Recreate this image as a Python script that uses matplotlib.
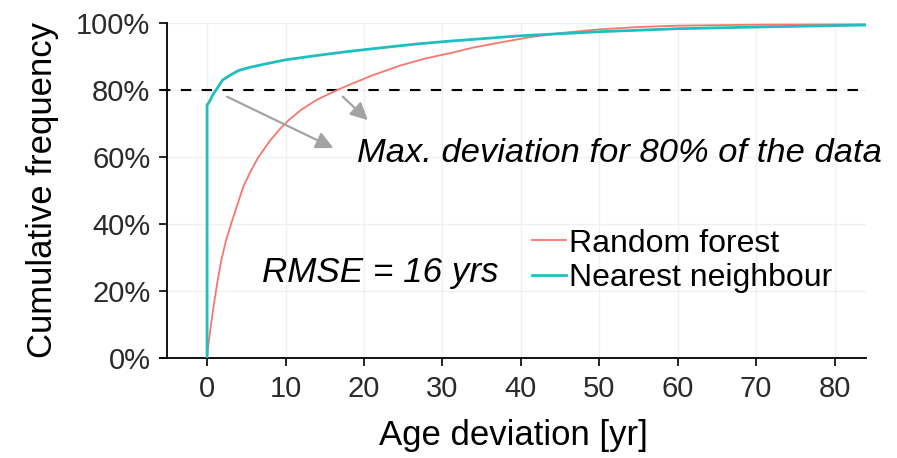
import matplotlib
matplotlib.use("Agg")
import matplotlib.pyplot as plt
from matplotlib.ticker import FuncFormatter

plt.rcParams['font.family'] = ['Liberation Sans', 'DejaVu Sans']

# Cumulative frequency of absolute age deviation per model
rf_dev = [0, 0.2, 0.5, 0.9, 1.3, 1.8, 2.4, 3.2, 4.6, 5.5, 6.5, 8.0, 9.3, 10.5, 12,
          14, 16.6, 18.2, 21, 24.6, 28, 31, 34, 37.4, 41, 45, 50, 55, 60, 70, 84]
rf_cum = [0, 0.045, 0.10, 0.165, 0.225, 0.29, 0.35, 0.41, 0.51, 0.555, 0.598,
          0.648, 0.684, 0.712, 0.741, 0.771, 0.80, 0.816, 0.843, 0.873, 0.895,
          0.91, 0.927, 0.942, 0.957, 0.97, 0.981, 0.988, 0.992, 0.995, 0.996]

nn_dev = [0, 0, 0.3, 0.6, 1.0, 1.3, 1.7, 2.0, 3, 4, 5.5, 7.5, 10, 14, 18, 23, 27,
          31, 35, 40, 45, 50, 60, 70, 84]
nn_cum = [0, 0.755, 0.765, 0.78, 0.795, 0.805, 0.82, 0.83, 0.845, 0.858, 0.868,
          0.878, 0.89, 0.903, 0.915, 0.928, 0.938, 0.946, 0.953, 0.962, 0.968,
          0.974, 0.983, 0.988, 0.994]

series_labels = ["Random forest", "Nearest neighbour"]
x_ticks = [0, 10, 20, 30, 40, 50, 60, 70, 80]
y_ticks = [0, 0.2, 0.4, 0.6, 0.8, 1.0]
threshold = 0.8

W, H = 897, 458
fig = plt.figure(figsize=(W / 100, H / 100), dpi=100)
ax = fig.add_axes([160 / W, 1 - 358 / H, 706 / W, 335 / H])

ax.set_xlim(-6, 84)
ax.set_ylim(0, 1)

ax.grid(True, color='#f0f0f0', lw=1.0, zorder=0)
ax.set_axisbelow(True)

ax.axhline(threshold, color='black', lw=1.5, dashes=(5, 5), zorder=2)

ax.plot(rf_dev, rf_cum, color='#F8766D', lw=1.3, label=series_labels[0], zorder=3)
ax.plot(nn_dev, nn_cum, color='#1FBFC0', lw=2.0, label=series_labels[1], zorder=4)

arrow_kw = dict(arrowstyle='-|>', color='#a3a3a3', lw=1.6, mutation_scale=26,
                shrinkA=0, shrinkB=0)
ax.annotate('', xy=(16.1, 0.627), xytext=(2.55, 0.780), arrowprops=arrow_kw)
ax.annotate('', xy=(20.5, 0.710), xytext=(17.3, 0.780), arrowprops=arrow_kw)

ax.text(19.1, 0.585, "Max. deviation for 80% of the data", fontsize=24.8,
        style='italic', ha='left', va='baseline')
ax.text(7.0, 0.227, "RMSE = 16 yrs", fontsize=25.2, style='italic',
        ha='left', va='baseline')

for side in ('top', 'right'):
    ax.spines[side].set_visible(False)
ax.spines['left'].set_position(('data', -5.1))
for side in ('left', 'bottom'):
    ax.spines[side].set_linewidth(1.3)

ax.set_xticks(x_ticks)
ax.set_yticks(y_ticks)
ax.yaxis.set_major_formatter(FuncFormatter(lambda v, _: f"{v * 100:.0f}%"))
ax.tick_params(direction='out', length=6, width=1.2, labelsize=21,
               labelcolor='#2a2a2a', pad=6)

ax.set_xlabel("Age deviation [yr]", fontsize=25, labelpad=12)
ax.set_ylabel("Cumulative frequency", fontsize=25, labelpad=12)

ax.legend(loc='center left', bbox_to_anchor=(532 / W, 1 - 261 / H),
          bbox_transform=fig.transFigure, frameon=False, fontsize=23,
          handlelength=1.05, handletextpad=0.1, labelspacing=0.15,
          borderpad=0, borderaxespad=0)

fig.savefig("out.png", dpi=100)
